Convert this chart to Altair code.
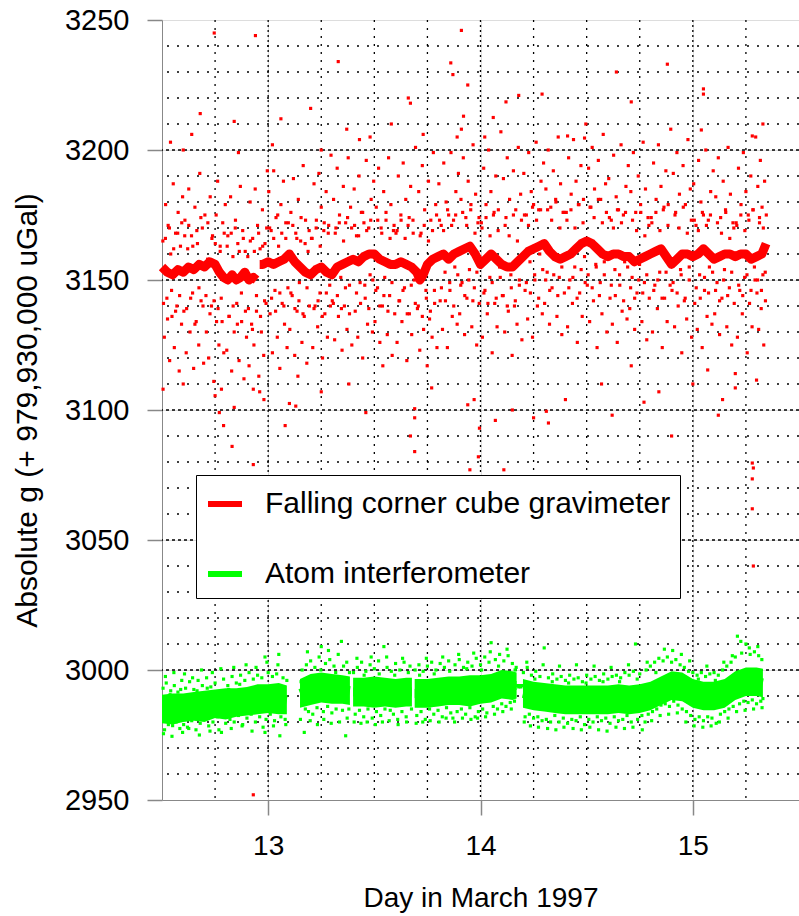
import altair as alt
import pandas as pd

# ---------------- data ----------------
SERIES = ["Falling corner cube gravimeter", "Atom interferometer"]

# red running band (dense core of the falling corner cube data), two runs
red_band_day_a = [12.5, 12.525, 12.55, 12.575, 12.6, 12.625, 12.65, 12.675, 12.7, 12.725, 12.75,
                  12.77, 12.79, 12.81, 12.83, 12.85, 12.87, 12.89, 12.91, 12.93, 12.945]
red_band_g_a = [3155, 3153, 3152, 3154, 3153, 3155, 3154, 3156, 3155, 3157, 3156,
                3153, 3151, 3150, 3152, 3150, 3151, 3153, 3150, 3151, 3150]
red_band_day_b = [12.96, 12.975, 13.0, 13.025, 13.05, 13.075, 13.1, 13.125, 13.15, 13.175, 13.2, 13.225,
                  13.25, 13.275, 13.3, 13.325, 13.35, 13.375, 13.4, 13.425, 13.45, 13.475, 13.5, 13.525,
                  13.55, 13.575, 13.6, 13.625, 13.65, 13.675, 13.7, 13.715, 13.73, 13.75, 13.775, 13.8,
                  13.825, 13.85, 13.875, 13.9, 13.925, 13.95, 13.975, 14.0, 14.025, 14.05, 14.075, 14.1,
                  14.125, 14.15, 14.175, 14.2, 14.225, 14.25, 14.275, 14.3, 14.325, 14.35, 14.375, 14.4,
                  14.425, 14.45, 14.475, 14.5, 14.525, 14.55, 14.575, 14.6, 14.625, 14.65, 14.675, 14.7,
                  14.725, 14.75, 14.775, 14.8, 14.825, 14.85, 14.875, 14.9, 14.925, 14.95, 14.975, 15.0,
                  15.025, 15.05, 15.075, 15.1, 15.125, 15.15, 15.175, 15.2, 15.225, 15.25, 15.275, 15.3,
                  15.325, 15.345]
red_band_g_b = [3156, 3156, 3157, 3156, 3157, 3158, 3160, 3157, 3155, 3153, 3152, 3154,
                3155, 3153, 3152, 3155, 3156, 3157, 3158, 3157, 3159, 3160, 3160, 3158,
                3157, 3156, 3156, 3157, 3156, 3155, 3153, 3150, 3152, 3156, 3158, 3159,
                3160, 3158, 3160, 3161, 3162, 3163, 3160, 3156, 3158, 3160, 3158, 3156,
                3155, 3155, 3157, 3159, 3161, 3162, 3163, 3164, 3161, 3159, 3158, 3159,
                3160, 3162, 3164, 3165, 3164, 3162, 3160, 3159, 3160, 3160, 3159, 3159,
                3157, 3158, 3159, 3160, 3161, 3162, 3159, 3156, 3158, 3160, 3160, 3159,
                3160, 3162, 3160, 3158, 3159, 3160, 3160, 3159, 3160, 3160, 3158, 3159,
                3160, 3164]

# red individual drops (day, value)
red_points_12 = [
    (12.504, 3165), (12.511, 3128), (12.517, 3179), (12.523, 3143), (12.529, 3171), (12.536, 3119),
    (12.541, 3160), (12.547, 3136), (12.553, 3187), (12.558, 3124), (12.564, 3168), (12.570, 3140),
    (12.576, 3176), (12.581, 3115), (12.587, 3163), (12.592, 3133), (12.597, 3182),
    (12.603, 3138), (12.608, 3173), (12.614, 3122), (12.621, 3162), (12.626, 3185), (12.632, 3130),
    (12.639, 3167), (12.644, 3145), (12.649, 3116), (12.655, 3178), (12.661, 3134), (12.667, 3164),
    (12.673, 3125), (12.678, 3191), (12.684, 3142), (12.690, 3170), (12.696, 3118),
    (12.702, 3175), (12.709, 3130), (12.715, 3158), (12.720, 3120), (12.727, 3182), (12.733, 3140),
    (12.738, 3167), (12.744, 3111), (12.751, 3164), (12.757, 3134), (12.762, 3188), (12.768, 3125),
    (12.774, 3161), (12.779, 3143), (12.786, 3172), (12.791, 3122), (12.798, 3179),
    (12.805, 3123), (12.810, 3167), (12.816, 3136), (12.823, 3182), (12.828, 3115), (12.834, 3159),
    (12.840, 3130), (12.846, 3173), (12.852, 3141), (12.857, 3164), (12.863, 3119), (12.869, 3186),
    (12.875, 3134), (12.880, 3169), (12.886, 3112), (12.892, 3161), (12.898, 3128),
    (12.904, 3159), (12.910, 3117), (12.915, 3180), (12.922, 3133), (12.927, 3166), (12.933, 3125),
    (12.939, 3185), (12.945, 3138), (12.950, 3171), (12.956, 3113), (12.962, 3162), (12.968, 3130),
    (12.973, 3177), (12.979, 3121), (12.985, 3164), (12.990, 3141), (12.996, 3192),
]
red_points_13 = [
    (13.003, 3184), (13.009, 3137), (13.014, 3169), (13.020, 3122), (13.026, 3192), (13.032, 3146),
    (13.037, 3174), (13.043, 3128), (13.049, 3163), (13.055, 3116), (13.060, 3179), (13.066, 3141),
    (13.072, 3188), (13.077, 3133), (13.083, 3166), (13.089, 3124), (13.095, 3172),
    (13.102, 3131), (13.107, 3176), (13.113, 3144), (13.119, 3189), (13.125, 3121), (13.130, 3168),
    (13.136, 3138), (13.142, 3181), (13.147, 3149), (13.153, 3165), (13.159, 3126), (13.165, 3194),
    (13.170, 3136), (13.176, 3173), (13.182, 3118), (13.188, 3161), (13.194, 3140),
    (13.204, 3166), (13.210, 3124), (13.216, 3187), (13.221, 3140), (13.227, 3173), (13.233, 3132),
    (13.239, 3191), (13.244, 3145), (13.250, 3178), (13.256, 3120), (13.262, 3169), (13.267, 3137),
    (13.273, 3184), (13.279, 3128), (13.285, 3171), (13.290, 3148), (13.296, 3198),
    (13.302, 3142), (13.308, 3181), (13.313, 3127), (13.319, 3170), (13.325, 3193), (13.331, 3136),
    (13.336, 3175), (13.342, 3151), (13.348, 3123), (13.354, 3186), (13.359, 3140), (13.365, 3172),
    (13.371, 3131), (13.377, 3197), (13.383, 3148), (13.388, 3178), (13.394, 3125),
    (13.405, 3185), (13.410, 3138), (13.416, 3167), (13.422, 3128), (13.428, 3190), (13.433, 3149),
    (13.439, 3176), (13.445, 3120), (13.451, 3172), (13.457, 3143), (13.462, 3196), (13.468, 3133),
    (13.474, 3170), (13.480, 3152), (13.485, 3181), (13.491, 3130), (13.497, 3188),
    (13.503, 3134), (13.509, 3178), (13.515, 3147), (13.520, 3193), (13.526, 3126), (13.532, 3170),
    (13.538, 3140), (13.544, 3184), (13.549, 3151), (13.555, 3173), (13.561, 3129), (13.567, 3197),
    (13.572, 3144), (13.578, 3179), (13.584, 3121), (13.590, 3169), (13.596, 3137),
    (13.602, 3168), (13.607, 3126), (13.613, 3190), (13.619, 3142), (13.625, 3175), (13.630, 3134),
    (13.636, 3195), (13.642, 3147), (13.648, 3181), (13.653, 3119), (13.659, 3171), (13.665, 3137),
    (13.671, 3186), (13.676, 3129), (13.682, 3173), (13.688, 3150), (13.694, 3201),
    (13.703, 3139), (13.709, 3184), (13.714, 3123), (13.720, 3168), (13.726, 3194), (13.732, 3131),
    (13.737, 3177), (13.743, 3146), (13.749, 3117), (13.755, 3188), (13.760, 3135), (13.766, 3173),
    (13.772, 3128), (13.778, 3199), (13.784, 3141), (13.789, 3179), (13.795, 3124),
    (13.804, 3187), (13.810, 3142), (13.815, 3171), (13.821, 3131), (13.827, 3195), (13.833, 3153),
    (13.838, 3180), (13.844, 3124), (13.850, 3175), (13.856, 3146), (13.861, 3199), (13.867, 3136),
    (13.873, 3173), (13.879, 3155), (13.884, 3184), (13.890, 3133), (13.896, 3191),
    (13.902, 3137), (13.908, 3181), (13.913, 3149), (13.919, 3197), (13.925, 3129), (13.931, 3174),
    (13.936, 3143), (13.942, 3188), (13.948, 3154), (13.954, 3177), (13.959, 3132), (13.965, 3202),
    (13.971, 3147), (13.977, 3183), (13.982, 3125), (13.988, 3172), (13.994, 3141),
]
red_points_14 = [
    (14.004, 3172), (14.009, 3128), (14.015, 3193), (14.021, 3146), (14.026, 3179), (14.032, 3137),
    (14.038, 3200), (14.044, 3151), (14.049, 3184), (14.055, 3122), (14.061, 3175), (14.067, 3141),
    (14.072, 3190), (14.078, 3132), (14.084, 3177), (14.090, 3155), (14.096, 3207),
    (14.103, 3144), (14.108, 3189), (14.114, 3130), (14.120, 3174), (14.126, 3197), (14.131, 3138),
    (14.137, 3181), (14.143, 3152), (14.149, 3121), (14.155, 3192), (14.160, 3140), (14.166, 3177),
    (14.172, 3133), (14.178, 3201), (14.183, 3148), (14.189, 3183), (14.195, 3127),
    (14.204, 3191), (14.210, 3146), (14.216, 3175), (14.222, 3135), (14.227, 3199), (14.233, 3157),
    (14.239, 3184), (14.245, 3128), (14.250, 3179), (14.256, 3150), (14.262, 3203), (14.268, 3140),
    (14.274, 3177), (14.279, 3160), (14.285, 3188), (14.291, 3137), (14.297, 3195),
    (14.302, 3141), (14.308, 3185), (14.314, 3153), (14.319, 3200), (14.325, 3133), (14.331, 3178),
    (14.337, 3147), (14.343, 3192), (14.348, 3158), (14.354, 3181), (14.360, 3136), (14.366, 3205),
    (14.371, 3151), (14.377, 3187), (14.383, 3129), (14.389, 3176), (14.395, 3145),
    (14.404, 3176), (14.410, 3132), (14.415, 3197), (14.421, 3150), (14.427, 3183), (14.433, 3141),
    (14.438, 3204), (14.444, 3155), (14.450, 3188), (14.456, 3126), (14.461, 3179), (14.467, 3145),
    (14.473, 3194), (14.479, 3136), (14.485, 3181), (14.490, 3159), (14.496, 3210),
    (14.503, 3148), (14.509, 3193), (14.514, 3134), (14.520, 3178), (14.526, 3201), (14.532, 3142),
    (14.537, 3185), (14.543, 3156), (14.549, 3124), (14.555, 3196), (14.560, 3144), (14.566, 3181),
    (14.572, 3137), (14.578, 3206), (14.583, 3152), (14.589, 3187), (14.595, 3130),
    (14.604, 3189), (14.610, 3143), (14.616, 3173), (14.621, 3133), (14.627, 3198), (14.633, 3154),
    (14.639, 3182), (14.644, 3126), (14.650, 3177), (14.656, 3148), (14.662, 3202), (14.667, 3138),
    (14.673, 3175), (14.679, 3157), (14.685, 3186), (14.690, 3135), (14.696, 3194),
    (14.703, 3139), (14.708, 3184), (14.714, 3151), (14.720, 3199), (14.726, 3131), (14.731, 3176),
    (14.737, 3145), (14.743, 3190), (14.749, 3156), (14.754, 3179), (14.760, 3134), (14.766, 3203),
    (14.772, 3149), (14.777, 3185), (14.783, 3127), (14.789, 3174), (14.795, 3143),
    (14.804, 3174), (14.810, 3130), (14.815, 3195), (14.821, 3148), (14.827, 3181), (14.833, 3139),
    (14.838, 3202), (14.844, 3153), (14.850, 3186), (14.856, 3124), (14.861, 3177), (14.867, 3143),
    (14.873, 3192), (14.879, 3134), (14.884, 3179), (14.890, 3157), (14.896, 3208),
    (14.902, 3146), (14.908, 3191), (14.914, 3132), (14.919, 3176), (14.925, 3199), (14.931, 3140),
    (14.937, 3183), (14.942, 3154), (14.948, 3122), (14.954, 3194), (14.960, 3142), (14.965, 3179),
    (14.971, 3135), (14.977, 3204), (14.983, 3150), (14.988, 3185), (14.994, 3128),
]
red_points_15 = [
    (15.004, 3187), (15.009, 3141), (15.015, 3171), (15.021, 3131), (15.027, 3196), (15.032, 3152),
    (15.038, 3180), (15.044, 3124), (15.050, 3175), (15.055, 3146), (15.061, 3200), (15.067, 3136),
    (15.073, 3173), (15.078, 3155), (15.084, 3184), (15.090, 3133), (15.096, 3192),
    (15.103, 3137), (15.108, 3182), (15.114, 3149), (15.120, 3197), (15.126, 3129), (15.131, 3174),
    (15.137, 3143), (15.143, 3188), (15.149, 3154), (15.154, 3177), (15.160, 3132), (15.166, 3201),
    (15.172, 3147), (15.177, 3183), (15.183, 3125), (15.189, 3172), (15.195, 3141),
    (15.204, 3172), (15.210, 3128), (15.215, 3193), (15.221, 3146), (15.227, 3179), (15.233, 3137),
    (15.238, 3199), (15.244, 3151), (15.250, 3184), (15.256, 3122), (15.261, 3175), (15.267, 3141),
    (15.273, 3190), (15.279, 3132), (15.284, 3177), (15.290, 3155), (15.296, 3205),
    (15.302, 3145), (15.306, 3186), (15.310, 3131), (15.314, 3172), (15.318, 3196), (15.322, 3139),
    (15.326, 3178), (15.330, 3152), (15.334, 3125), (15.338, 3188), (15.342, 3142), (15.346, 3175),
]
# drops lying close to the running band
red_near_band = [
    (12.507, 3141), (12.516, 3166), (12.526, 3135), (12.535, 3170), (12.545, 3146), (12.555, 3162), (12.564, 3138), (12.574, 3168), (12.583, 3144), (12.593, 3172),
    (12.607, 3167), (12.616, 3139), (12.626, 3171), (12.635, 3143), (12.645, 3163), (12.655, 3133), (12.664, 3169), (12.674, 3147), (12.683, 3174), (12.693, 3140),
    (12.707, 3144), (12.716, 3172), (12.726, 3137), (12.735, 3166), (12.745, 3142), (12.755, 3175), (12.764, 3139), (12.774, 3163), (12.783, 3134), (12.793, 3168),
    (12.807, 3163), (12.816, 3136), (12.826, 3168), (12.835, 3140), (12.845, 3170), (12.855, 3133), (12.864, 3161), (12.874, 3145), (12.883, 3166), (12.893, 3138),
    (12.907, 3139), (12.916, 3165), (12.926, 3131), (12.935, 3161), (12.945, 3144), (12.955, 3168), (12.964, 3136), (12.974, 3163), (12.983, 3142), (12.993, 3170),
    (13.007, 3170), (13.016, 3143), (13.026, 3166), (13.035, 3138), (13.045, 3175), (13.055, 3145), (13.064, 3168), (13.074, 3140), (13.083, 3172), (13.093, 3147),
    (13.107, 3145), (13.116, 3171), (13.126, 3139), (13.135, 3166), (13.145, 3142), (13.155, 3174), (13.164, 3137), (13.174, 3164), (13.183, 3147), (13.193, 3169),
    (13.207, 3166), (13.216, 3139), (13.226, 3170), (13.235, 3142), (13.245, 3163), (13.255, 3136), (13.264, 3172), (13.274, 3145), (13.283, 3168), (13.293, 3140),
    (13.307, 3141), (13.316, 3168), (13.326, 3144), (13.335, 3172), (13.345, 3139), (13.355, 3165), (13.364, 3147), (13.374, 3174), (13.383, 3137), (13.393, 3170),
    (13.407, 3171), (13.416, 3145), (13.426, 3167), (13.435, 3141), (13.445, 3176), (13.455, 3148), (13.464, 3169), (13.474, 3139), (13.483, 3173), (13.493, 3150),
    (13.507, 3146), (13.516, 3173), (13.526, 3140), (13.535, 3168), (13.545, 3144), (13.555, 3176), (13.564, 3138), (13.574, 3166), (13.583, 3149), (13.593, 3171),
    (13.607, 3169), (13.616, 3142), (13.626, 3173), (13.635, 3146), (13.645, 3166), (13.655, 3137), (13.664, 3174), (13.674, 3148), (13.683, 3168), (13.693, 3141),
    (13.707, 3140), (13.716, 3167), (13.726, 3136), (13.735, 3171), (13.745, 3143), (13.755, 3165), (13.764, 3138), (13.774, 3169), (13.783, 3146), (13.793, 3175),
    (13.807, 3173), (13.816, 3147), (13.826, 3169), (13.835, 3142), (13.845, 3177), (13.855, 3149), (13.864, 3171), (13.874, 3140), (13.883, 3175), (13.893, 3152),
    (13.907, 3148), (13.916, 3176), (13.926, 3144), (13.935, 3171), (13.945, 3150), (13.955, 3179), (13.964, 3142), (13.974, 3168), (13.983, 3153), (13.993, 3174),
    (14.007, 3170), (14.016, 3145), (14.026, 3174), (14.035, 3141), (14.045, 3167), (14.055, 3149), (14.064, 3176), (14.074, 3143), (14.083, 3169), (14.093, 3151),
    (14.107, 3144), (14.116, 3171), (14.126, 3140), (14.135, 3167), (14.145, 3147), (14.155, 3175), (14.164, 3142), (14.174, 3165), (14.183, 3150), (14.193, 3173),
    (14.207, 3175), (14.216, 3149), (14.226, 3171), (14.235, 3145), (14.245, 3178), (14.255, 3152), (14.264, 3173), (14.274, 3143), (14.283, 3177), (14.293, 3154),
    (14.307, 3150), (14.316, 3177), (14.326, 3146), (14.335, 3173), (14.345, 3152), (14.355, 3180), (14.364, 3144), (14.374, 3170), (14.383, 3155), (14.393, 3176),
    (14.407, 3173), (14.416, 3147), (14.426, 3177), (14.435, 3151), (14.445, 3170), (14.455, 3143), (14.464, 3179), (14.474, 3154), (14.483, 3172), (14.493, 3149),
    (14.507, 3152), (14.516, 3178), (14.526, 3147), (14.535, 3174), (14.545, 3155), (14.555, 3181), (14.564, 3149), (14.574, 3172), (14.583, 3157), (14.593, 3176),
    (14.607, 3174), (14.616, 3148), (14.626, 3170), (14.635, 3144), (14.645, 3177), (14.655, 3152), (14.664, 3172), (14.674, 3142), (14.683, 3176), (14.693, 3155),
    (14.707, 3147), (14.716, 3173), (14.726, 3143), (14.735, 3169), (14.745, 3150), (14.755, 3176), (14.764, 3145), (14.774, 3167), (14.783, 3152), (14.793, 3171),
    (14.807, 3172), (14.816, 3146), (14.826, 3176), (14.835, 3150), (14.845, 3169), (14.855, 3143), (14.864, 3178), (14.874, 3153), (14.883, 3171), (14.893, 3148),
    (14.907, 3149), (14.916, 3175), (14.926, 3145), (14.935, 3170), (14.945, 3152), (14.955, 3178), (14.964, 3143), (14.974, 3168), (14.983, 3155), (14.993, 3173),
    (15.007, 3173), (15.016, 3147), (15.026, 3169), (15.035, 3143), (15.045, 3176), (15.055, 3151), (15.064, 3171), (15.074, 3145), (15.083, 3175), (15.093, 3153),
    (15.107, 3146), (15.116, 3172), (15.126, 3142), (15.135, 3168), (15.145, 3150), (15.155, 3176), (15.164, 3144), (15.174, 3166), (15.183, 3153), (15.193, 3170),
    (15.207, 3171), (15.216, 3148), (15.226, 3175), (15.235, 3144), (15.245, 3169), (15.255, 3152), (15.264, 3173), (15.274, 3146), (15.283, 3177), (15.293, 3150),
    (15.305, 3150), (15.314, 3174), (15.323, 3146), (15.332, 3170), (15.341, 3153),
]
red_outliers = [
    (12.746, 3245), (12.94, 3244), (13.33, 3234), (13.86, 3233.5), (13.87, 3229), (13.94, 3225),
    (13.91, 3246), (13.66, 3220), (13.67, 3218), (12.68, 3214), (13.37, 3208), (13.48, 3205),
    (13.92, 3213), (13.91, 3208), (13.89, 3205), (12.505, 3108), (12.75, 3105.5), (12.78, 3108),
    (12.77, 3099), (12.84, 3101), (12.93, 3108), (12.96, 3107), (12.98, 3104), (13.1, 3102.5),
    (13.13, 3101.5), (13.14, 3113), (13.25, 3107), (13.46, 3099), (13.54, 3117), (13.69, 3100.5),
    (13.69, 3097), (13.77, 3108.5), (13.94, 3102), (13.97, 3104), (12.79, 3094), (12.83, 3086),
    (12.93, 3079), (13.67, 3090), (13.69, 3084), (13.95, 3077), (14.11, 3077), (13.99, 3082),
    (13.995, 3093), (14.07, 3096), (14.25, 3097), (14.32, 3095), (14.31, 3099.5), (14.57, 3110),
    (14.77, 3103), (14.9, 3090), (15.14, 3104), (15.2, 3108.5), (15.3, 3111.5), (15.2, 3114),
    (14.71, 3117), (15.07, 3115.4), (14.64, 3230), (14.88, 3233), (14.18, 3221), (14.12, 3218.5),
    (14.29, 3221.5), (14.71, 3218.5), (15.05, 3223.5), (15.05, 3221.5), (15.33, 3210), (15.04, 3207.7),
    (14.06, 3212.5), (14.02, 3205), (14.41, 3205.4), (14.49, 3204.6), (15.28, 3205.4),
    (15.28, 3079.6), (15.285, 3077.7), (15.28, 3073.5), (15.28, 3062), (15.285, 3040), (12.93, 2952),
    (12.54, 3203), (12.6, 3200), (12.64, 3206), (12.84, 3211), (12.86, 3199), (13.02, 3202),
    (13.06, 3212), (13.2, 3216), (13.25, 3200), (13.43, 3204), (13.58, 3210), (13.73, 3206),
    (14.15, 3100), (14.4, 3104), (14.62, 3098), (14.84, 3107), (15.0, 3110), (15.12, 3098),
    (13.38, 3110), (13.08, 3094), (12.6, 3110),
]

# green dense core of the atom interferometer data (runs separated by gaps)
green_band_day = [12.5, 12.55, 12.6, 12.65, 12.7, 12.75, 12.8, 12.85, 12.9, 12.95, 13.0, 13.05, 13.088,
                  13.15, 13.2, 13.25, 13.3, 13.35, 13.385,
                  13.4, 13.45, 13.5, 13.55, 13.6, 13.65, 13.677,
                  13.69, 13.75, 13.8, 13.85, 13.9, 13.95, 14.0, 14.05, 14.1, 14.15, 14.17,
                  14.2, 14.25, 14.3, 14.35, 14.4, 14.45, 14.5, 14.55, 14.6, 14.65, 14.7, 14.75,
                  14.8, 14.85, 14.9, 14.95, 15.0, 15.05, 15.1, 15.15, 15.2, 15.25, 15.3, 15.33]
green_band_run = [1] * 13 + [2] * 6 + [3] * 7 + [4] * 11 + [5] * 24
green_band_mid = [2985, 2985, 2985.5, 2986, 2986, 2987, 2987, 2987.5, 2988, 2989, 2989, 2989, 2988.5,
                  2991, 2992.5, 2993, 2993, 2992.5, 2992,
                  2991.5, 2991.5, 2991.5, 2991.5, 2991, 2991.5, 2991.5,
                  2991, 2991, 2991.5, 2992, 2992, 2992, 2992.5, 2993, 2994.5, 2994, 2994,
                  2991, 2990, 2989.5, 2989, 2988.5, 2988.5, 2988.5, 2988.5, 2988.5, 2989, 2988.5, 2989,
                  2990, 2992, 2994, 2993.5, 2991, 2990, 2990, 2991, 2994, 2995.5, 2995.5, 2995]
green_band_low = [2979.5, 2979, 2980, 2980.5, 2980, 2981.5, 2981, 2982, 2982.5, 2983, 2983.5, 2983, 2983,
                  2985.5, 2986.5, 2987.5, 2987, 2987, 2986.5,
                  2986, 2986, 2985.5, 2986, 2985.5, 2986, 2986,
                  2985.5, 2985.5, 2986, 2986.5, 2986.5, 2986, 2987, 2987.5, 2989, 2988.5, 2989,
                  2985.5, 2984.5, 2984, 2983.5, 2983, 2983, 2983, 2983, 2983, 2983.5, 2983, 2983.5,
                  2984.5, 2986.5, 2988.5, 2988, 2985.5, 2984.5, 2984.5, 2985.5, 2988.5, 2990, 2990, 2989.5]
green_band_high = [2990.5, 2991, 2991, 2991.5, 2992, 2992.5, 2993, 2993, 2993.5, 2994.5, 2994.5, 2995, 2994,
                   2996.5, 2998.5, 2999, 2998.5, 2998, 2997.5,
                   2997, 2997, 2997.5, 2997, 2996.5, 2997, 2997,
                   2996.5, 2996.5, 2997, 2997.5, 2997.5, 2998, 2998, 2998.5, 3000, 2999.5, 2999,
                   2996.5, 2995.5, 2995, 2994.5, 2994, 2994, 2994, 2994, 2994, 2994.5, 2994, 2994.5,
                   2995.5, 2997.5, 2999.5, 2999, 2996.5, 2995.5, 2995.5, 2996.5, 2999.5, 3001, 3001, 3000.5]

# green individual measurements outside the dense core (day, value)
green_points = [
    (12.505, 2993), (12.512, 2977), (12.52, 2995), (12.53, 2979), (12.541, 2992), (12.55, 2978.6),
    (12.558, 2994), (12.566, 2980), (12.575, 2991.5), (12.584, 2977.5), (12.593, 2996), (12.602, 2979),
    (12.611, 2993), (12.62, 2978), (12.63, 2995.5), (12.64, 2980.5), (12.65, 2992.5), (12.66, 2977),
    (12.67, 2996), (12.68, 2979.5), (12.69, 2994), (12.70, 2981), (12.71, 2997), (12.72, 2978.5),
    (12.73, 2993.5), (12.74, 2980), (12.75, 2995), (12.76, 2982), (12.78, 2976), (12.79, 2996.5),
    (12.80, 2979.5), (12.81, 2994), (12.82, 2981), (12.83, 2997.5), (12.84, 2980), (12.85, 2995),
    (12.86, 2982.5), (12.87, 2998), (12.88, 2979), (12.89, 2996), (12.90, 2981.5), (12.91, 2999),
    (12.92, 2983), (12.93, 2996.5), (12.94, 2980), (12.95, 2998), (12.96, 2982), (12.97, 2997),
    (12.985, 3005), (12.985, 2976), (12.99, 2981), (13.0, 2999), (13.01, 2983), (13.02, 2997.5),
    (13.03, 2980.5), (13.04, 2998.5), (13.05, 3006), (13.055, 2974.7), (13.06, 2982), (13.07, 2997),
    (13.08, 2981), (13.088, 2996),
    (13.152, 2981), (13.16, 3000), (13.17, 2976), (13.175, 2985), (13.18, 3002), (13.19, 2984),
    (13.2, 3003.5), (13.21, 2983), (13.22, 3001), (13.23, 2985.5), (13.24, 3005), (13.25, 3009),
    (13.26, 2984), (13.27, 3002.5), (13.28, 2986), (13.29, 3004), (13.3, 2983.5), (13.31, 3001.5),
    (13.32, 2985), (13.33, 3006), (13.345, 3011), (13.35, 2984.5), (13.365, 2974.7), (13.37, 3003),
    (13.38, 2985),
    (13.402, 2999), (13.41, 2983), (13.42, 3001), (13.43, 2984.5), (13.44, 3003), (13.45, 2982),
    (13.46, 2999.5), (13.47, 2985), (13.48, 3002), (13.49, 2981.5), (13.5, 3000.5), (13.51, 2984),
    (13.52, 3003.5), (13.53, 2982.5), (13.545, 3009), (13.55, 2985), (13.56, 3001), (13.57, 2980.5),
    (13.58, 2999.5), (13.59, 2983), (13.6, 3002.5), (13.61, 2981), (13.62, 3000), (13.63, 2984),
    (13.64, 3003), (13.65, 2982), (13.66, 2999), (13.675, 2985),
    (13.692, 3000), (13.7, 2982.5), (13.71, 3002), (13.72, 2984), (13.73, 2999.5), (13.74, 2981),
    (13.75, 3001.5), (13.76, 2985), (13.77, 3003), (13.78, 2983), (13.79, 3000), (13.8, 2984.5),
    (13.81, 3002.5), (13.82, 2982), (13.83, 3001), (13.84, 2985.5), (13.85, 3003.5), (13.86, 2983.5),
    (13.87, 2981.5), (13.88, 3002), (13.89, 2984), (13.9, 3004), (13.91, 2985), (13.92, 3001),
    (13.93, 2983), (13.94, 3003), (13.95, 2985.5), (13.96, 3001.5), (13.975, 2982), (13.98, 3004.5),
    (13.99, 2984), (14.0, 3002), (14.01, 2985), (14.02, 3005), (14.03, 2983.5), (14.04, 3003),
    (14.05, 3010.5), (14.06, 2986), (14.07, 3004), (14.08, 2985), (14.09, 3006), (14.1, 2987),
    (14.11, 3003.5), (14.12, 2986), (14.13, 3005.5), (14.14, 2987.5), (14.15, 3002.5), (14.16, 2988),
    (14.168, 3001), (14.175, 2994), (14.18, 2993.5), (14.185, 2994), (14.19, 2993.5), (14.195, 2994),
    (14.202, 2999), (14.21, 2982), (14.22, 3001), (14.23, 2983), (14.24, 2998), (14.25, 2981.5),
    (14.26, 2999.5), (14.27, 2982), (14.28, 2997.5), (14.29, 2980.5), (14.3, 3008.5), (14.31, 2981),
    (14.32, 2997), (14.33, 2980), (14.34, 2998.5), (14.35, 2982.5), (14.36, 2996.5), (14.37, 2980),
    (14.38, 2997.5), (14.39, 2981.5), (14.4, 2996), (14.41, 2979.5), (14.42, 2998), (14.43, 2981),
    (14.44, 2996.5), (14.45, 2980.5), (14.46, 2997), (14.47, 2982), (14.48, 2995.5), (14.49, 2979),
    (14.5, 2998), (14.51, 2981), (14.52, 2996.5), (14.53, 2980), (14.54, 2997.5), (14.55, 2982),
    (14.56, 2996), (14.57, 2980.5), (14.58, 2998.5), (14.59, 2981.5), (14.6, 2996.5), (14.61, 2979.5),
    (14.62, 2997.5), (14.63, 2982), (14.64, 2998), (14.65, 2980.5), (14.66, 2997), (14.67, 2981),
    (14.68, 2999), (14.69, 2982.5), (14.7, 2998), (14.71, 2980), (14.72, 2999.5), (14.73, 3010),
    (14.74, 2981), (14.75, 2998.5), (14.76, 2982.5), (14.775, 2980), (14.78, 3000), (14.79, 2983),
    (14.8, 3001.5), (14.81, 2984), (14.82, 3003), (14.83, 2985), (14.84, 3004.5), (14.85, 2986.5),
    (14.86, 3003.5), (14.87, 2987), (14.88, 3005), (14.89, 2986), (14.9, 3003), (14.91, 2988),
    (14.92, 3004), (14.93, 2986.5), (14.94, 3002), (14.95, 2985), (14.96, 3001), (14.97, 2984),
    (14.98, 2999.5), (14.99, 2982.5), (15.0, 2999), (15.01, 2981), (15.02, 2998), (15.03, 2982),
    (15.04, 2999), (15.05, 2980.5), (15.06, 2997.5), (15.07, 2982), (15.08, 2998.5), (15.09, 2981.5),
    (15.1, 2999), (15.11, 2979.5), (15.12, 2998), (15.13, 2983), (15.14, 3000), (15.15, 2984),
    (15.16, 3001.5), (15.17, 2985), (15.18, 3003), (15.19, 2986), (15.2, 3005), (15.21, 3013),
    (15.22, 2987), (15.23, 3006.5), (15.24, 2988), (15.25, 3010), (15.26, 2987.5), (15.27, 3006),
    (15.28, 2988.5), (15.29, 3007), (15.3, 2987), (15.31, 3005.5), (15.32, 2988), (15.325, 3004),
    (15.33, 2989),
]
green_points_wide = [
    (12.507, 2975.5), (12.516, 2997.5), (12.527, 2983), (12.538, 2990.5), (12.547, 2974.5), (12.556, 2999),
    (12.571, 2982.5), (12.588, 2992.5), (12.597, 2976), (12.606, 2998.5), (12.617, 2983.5), (12.626, 2977.5),
    (12.644, 2997), (12.657, 2984), (12.665, 2992), (12.676, 2975), (12.686, 3000), (12.698, 2982.5),
    (12.713, 2993), (12.726, 2976.5), (12.737, 2999), (12.756, 2984), (12.768, 2977), (12.777, 3000.5),
    (12.797, 2983.5), (12.814, 2992.5), (12.826, 2977.5), (12.838, 3001), (12.853, 2984), (12.866, 2994.5),
    (12.877, 2978.5), (12.896, 3002), (12.911, 2985), (12.924, 2976.5), (12.943, 3001), (12.957, 2985),
    (12.976, 2978), (12.994, 3003), (13.008, 2986), (13.025, 2978.5), (13.046, 3002), (13.064, 2985.5),
    (13.083, 2979),
    (13.155, 2995.5), (13.168, 2988), (13.185, 3007), (13.198, 2980.5), (13.215, 2997), (13.232, 2979),
    (13.248, 3000), (13.262, 2981), (13.284, 3007.5), (13.297, 2979.5), (13.318, 2999), (13.336, 2980),
    (13.355, 3001.5), (13.372, 2981.5), (13.383, 2999),
    (13.405, 2980), (13.418, 3004.5), (13.437, 2979.5), (13.452, 2998), (13.466, 2980), (13.485, 3005),
    (13.505, 2979), (13.523, 2998.5), (13.538, 2980), (13.558, 3005), (13.575, 2984.5), (13.596, 2998),
    (13.612, 2979), (13.633, 3004.5), (13.652, 2980), (13.668, 3001.5),
    (13.697, 2979.5), (13.713, 2998), (13.728, 2980), (13.745, 3004.5), (13.763, 2980.5), (13.782, 2998.5),
    (13.805, 2980), (13.822, 3005), (13.838, 2981.5), (13.855, 2999.5), (13.878, 2980), (13.897, 3006),
    (13.915, 2981.5), (13.935, 3000.5), (13.955, 2981), (13.968, 3006.5), (13.986, 2981.5), (14.005, 3000),
    (14.024, 2982), (14.046, 3007), (14.066, 2983), (14.085, 3001.5), (14.105, 2984), (14.125, 3008),
    (14.145, 2985), (14.163, 3000),
    (14.206, 2980), (14.218, 3003), (14.235, 2978.5), (14.256, 2996.5), (14.273, 2978), (14.295, 3002),
    (14.316, 2977.5), (14.338, 2995.5), (14.355, 2977), (14.372, 3001.5), (14.393, 2978), (14.415, 2995),
    (14.436, 2977.5), (14.452, 3002), (14.475, 2977), (14.497, 2995), (14.515, 2978), (14.535, 3001.5),
    (14.556, 2977), (14.577, 2995.5), (14.596, 2976.5), (14.615, 3001), (14.638, 2978), (14.655, 2995.5),
    (14.678, 2977.5), (14.697, 3002), (14.718, 2978), (14.738, 2996.5), (14.762, 2977), (14.785, 3003),
    (14.806, 2980.5), (14.826, 2999), (14.846, 2982.5), (14.866, 3008), (14.886, 2983), (14.905, 3007.5),
    (14.927, 2983.5), (14.946, 3006), (14.967, 2980), (14.985, 3003.5), (15.006, 2978.5), (15.026, 2996.5),
    (15.047, 2978), (15.066, 3001.5), (15.086, 2978.5), (15.106, 2996), (15.125, 2980), (15.146, 3003),
    (15.166, 2981.5), (15.186, 3005.5), (15.206, 2984), (15.226, 3011), (15.246, 2984.5), (15.266, 3008.5),
    (15.286, 2985), (15.306, 3009), (15.326, 2985.5),
]

# axis ticks and grid
x_ticks = [13, 14, 15]
y_ticks = [2950, 3000, 3050, 3100, 3150, 3200, 3250]
grid_days_major = [13, 14, 15]
grid_days_minor = [12.75, 13.25, 13.5, 13.75, 14.25, 14.5, 14.75, 15.25]
grid_g_major = [3000, 3050, 3100, 3150, 3200]
grid_g_minor = [2960, 2970, 2980, 2990, 3010, 3020, 3030, 3040, 3060, 3070, 3080, 3090,
                3110, 3120, 3130, 3140, 3160, 3170, 3180, 3190, 3210, 3220, 3230, 3240]

# ---------------- tables ----------------
red_pts = pd.DataFrame(red_points_12 + red_points_13 + red_points_14 + red_points_15
                       + red_near_band + red_outliers, columns=["day", "g"])
green_pts = pd.DataFrame(green_points + green_points_wide, columns=["day", "g"])

band_lines = pd.concat([
    pd.DataFrame({"day": red_band_day_a, "g": red_band_g_a, "series": SERIES[0], "run": "r1"}),
    pd.DataFrame({"day": red_band_day_b, "g": red_band_g_b, "series": SERIES[0], "run": "r2"}),
    pd.DataFrame({"day": green_band_day, "g": green_band_mid, "series": SERIES[1],
                  "run": ["g%d" % r for r in green_band_run]}),
], ignore_index=True)
green_core = pd.DataFrame({"day": green_band_day, "g": green_band_low, "g2": green_band_high,
                           "run": green_band_run})

FONT = "Liberation Sans"
xscale = alt.Scale(domain=[12.5, 15.5], nice=False, zero=False)
yscale = alt.Scale(domain=[2950, 3250], nice=False, zero=False)
xaxis = alt.Axis(values=x_ticks, format="d", tickSize=15, tickWidth=1.5, labelFontSize=28,
                 labelPadding=17, title="Day in March 1997", titleFontSize=28, titlePadding=24,
                 titleFontWeight="normal")
yaxis = alt.Axis(values=y_ticks, format="d", tickSize=15, tickWidth=1.5, labelFontSize=29,
                 labelPadding=18, title="Absolute g (+ 979,930,000 uGal)", titleFontSize=30,
                 titlePadding=22, titleFontWeight="normal")

X = alt.X("day:Q", scale=xscale, axis=xaxis)
Y = alt.Y("g:Q", scale=yscale, axis=yaxis)

# ---------------- layers ----------------
vmaj = alt.Chart(pd.DataFrame({"day": grid_days_major})).mark_rule(
    color="black", strokeWidth=1.3, strokeDash=[2, 3]).encode(x=X)
vmin = alt.Chart(pd.DataFrame({"day": grid_days_minor})).mark_rule(
    color="black", strokeWidth=1.3, strokeDash=[2, 6]).encode(x=X)
hmaj = alt.Chart(pd.DataFrame({"g": grid_g_major})).mark_rule(
    color="black", strokeWidth=1.3, strokeDash=[3, 3]).encode(y=Y)
hmin = alt.Chart(pd.DataFrame({"g": grid_g_minor})).mark_rule(
    color="black", strokeWidth=1.3, strokeDash=[2, 8]).encode(y=Y)

red_scatter = alt.Chart(red_pts).mark_square(size=10, color="#ff0000", opacity=1).encode(x=X, y=Y)
green_area = alt.Chart(green_core).mark_area(color="#00ff00", opacity=1).encode(
    x=X, y=Y, y2="g2:Q", detail="run:N")
green_scatter = alt.Chart(green_pts).mark_square(size=10, color="#00ff00", opacity=1).encode(x=X, y=Y)

lines = alt.Chart(band_lines).mark_line(strokeWidth=9, strokeJoin="round").encode(
    x=X, y=Y, detail="run:N",
    color=alt.Color("series:N",
                    scale=alt.Scale(domain=SERIES, range=["#ff0000", "#00ff00"]),
                    legend=alt.Legend(orient="none", legendX=34, legendY=455, title=None,
                                      symbolType="stroke", symbolStrokeWidth=6, symbolSize=1156,
                                      labelFontSize=30, labelFont=FONT, labelColor="black",
                                      labelOffset=20, labelLimit=800, rowPadding=35, padding=9,
                                      strokeColor="black", fillColor="white")))

# green core is drawn over the legend line of the green series so only the band shows
chart = alt.layer(vmin, vmaj, hmin, hmaj, red_scatter, lines, green_area, green_scatter).properties(
    width=637, height=780,
    autosize=alt.AutoSizeParams(type="none"),
    padding={"left": 162, "top": 20, "right": 0, "bottom": 116},
).configure_view(stroke="black", strokeWidth=1.5).configure_axis(
    labelFont=FONT, titleFont=FONT, labelColor="black", titleColor="black",
    domainColor="black", domainWidth=1.5, tickColor="black", grid=False
).configure(background="white")

chart.save("out.html", embed_options={"renderer": "svg", "actions": False})
